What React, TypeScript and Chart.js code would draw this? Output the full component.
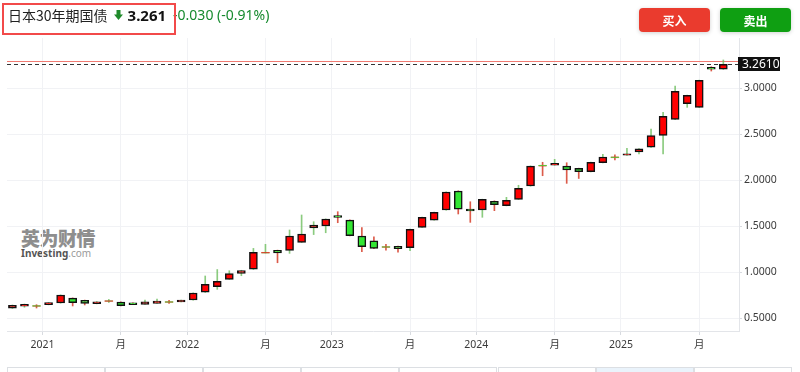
import React, { useEffect, useRef } from 'react';
import { Chart, registerables } from 'chart.js';

Chart.register(...registerables);

// ---- data ----
const months = [
  '2020-10', '2020-11', '2020-12',
  '2021-01', '2021-02', '2021-03', '2021-04', '2021-05', '2021-06', '2021-07', '2021-08', '2021-09', '2021-10', '2021-11', '2021-12',
  '2022-01', '2022-02', '2022-03', '2022-04', '2022-05', '2022-06', '2022-07', '2022-08', '2022-09', '2022-10', '2022-11', '2022-12',
  '2023-01', '2023-02', '2023-03', '2023-04', '2023-05', '2023-06', '2023-07', '2023-08', '2023-09', '2023-10', '2023-11', '2023-12',
  '2024-01', '2024-02', '2024-03', '2024-04', '2024-05', '2024-06', '2024-07', '2024-08', '2024-09', '2024-10', '2024-11', '2024-12',
  '2025-01', '2025-02', '2025-03', '2025-04', '2025-05', '2025-06', '2025-07', '2025-08', '2025-09',
];

const opens = [
  0.610, 0.631, 0.635,
  0.648, 0.666, 0.720, 0.696, 0.659, 0.687, 0.677, 0.669, 0.652, 0.663, 0.678, 0.678,
  0.699, 0.783, 0.843, 0.924, 0.989, 1.033, 1.212, 1.239, 1.239, 1.326, 1.482, 1.503,
  1.618, 1.568, 1.395, 1.343, 1.276, 1.283, 1.268, 1.489, 1.568, 1.677, 1.884, 1.688,
  1.677, 1.772, 1.724, 1.793, 1.938, 2.160, 2.164, 2.155, 2.130, 2.093, 2.191, 2.251,
  2.272, 2.308, 2.359, 2.489, 2.663, 2.833, 2.793, 3.227, 3.207,
];

const highs = [
  0.645, 0.655, 0.648,
  0.672, 0.755, 0.722, 0.698, 0.682, 0.705, 0.679, 0.669, 0.699, 0.710, 0.696, 0.698,
  0.777, 0.960, 1.030, 1.017, 1.022, 1.260, 1.304, 1.241, 1.460, 1.623, 1.550, 1.581,
  1.659, 1.570, 1.485, 1.387, 1.304, 1.285, 1.469, 1.600, 1.654, 1.875, 1.886, 1.767,
  1.795, 1.777, 1.815, 1.946, 2.157, 2.196, 2.228, 2.191, 2.132, 2.198, 2.283, 2.278,
  2.348, 2.345, 2.558, 2.739, 3.025, 2.926, 3.089, 3.235, 3.308,
];

const lows = [
  0.607, 0.620, 0.612,
  0.646, 0.664, 0.634, 0.645, 0.657, 0.672, 0.635, 0.649, 0.650, 0.661, 0.663, 0.678,
  0.697, 0.781, 0.815, 0.922, 0.963, 1.031, 1.210, 1.104, 1.206, 1.324, 1.410, 1.430,
  1.539, 1.396, 1.224, 1.258, 1.242, 1.220, 1.235, 1.487, 1.566, 1.675, 1.634, 1.543,
  1.598, 1.670, 1.722, 1.791, 1.936, 2.050, 2.164, 1.967, 2.020, 2.091, 2.189, 2.221,
  2.270, 2.286, 2.357, 2.286, 2.660, 2.793, 2.791, 3.188, 3.205,
];

const closes = [
  0.641, 0.651, 0.634,
  0.670, 0.753, 0.670, 0.663, 0.680, 0.688, 0.637, 0.649, 0.680, 0.688, 0.677, 0.698,
  0.775, 0.870, 0.902, 0.985, 1.020, 1.217, 1.213, 1.210, 1.395, 1.416, 1.514, 1.579,
  1.598, 1.398, 1.278, 1.260, 1.275, 1.257, 1.467, 1.598, 1.652, 1.873, 1.685, 1.666,
  1.793, 1.735, 1.783, 1.913, 2.155, 2.159, 2.184, 2.112, 2.093, 2.196, 2.253, 2.250,
  2.289, 2.343, 2.485, 2.696, 2.967, 2.924, 3.087, 3.207, 3.261,
];

const yTickValues = [0.5, 1.0, 1.5, 2.0, 2.5, 3.0];
const midYearLabel = '月';
const lastPrice = 3.261;
const askPrice = 3.297;

const instrumentName = '日本30年期国债';
const priceText = '3.261';
const changeText = '-0.030 (-0.91%)';
const buyText = '买入';
const sellText = '卖出';
const tabCount = 8;
const activeTab = 6;

// x ticks derived from the month list: years at the Jan boundary, "月" at July
const xTicks: { value: number; label: string }[] = [];
months.forEach((m, i) => {
  const [yy, mm] = m.split('-');
  if (mm === '01') xTicks.push({ value: i - 0.5, label: yy });
  if (mm === '07') xTicks.push({ value: i, label: midYearLabel });
});

const UP_BODY = '#ff0000';
const DOWN_BODY = '#33e633';
const UP_WICK = 'rgba(110,190,95,0.8)';
const DOWN_WICK = 'rgba(214,62,42,0.85)';
const FONT = "'Noto Sans', 'Noto Sans CJK SC', sans-serif";

export default function App() {
  const canvasRef = useRef<HTMLCanvasElement | null>(null);

  useEffect(() => {
    document.body.style.margin = '0';
    const canvas = canvasRef.current;
    if (!canvas) return;

    const idx = months.map((_, i) => i);
    const isUp = (i: number) => closes[i] >= opens[i];
    const isCross = (i: number) => Math.abs(closes[i] - opens[i]) < 0.005;
    const crossIdx = idx.filter(isCross);

    const linesPlugin = {
      id: 'priceLines',
      beforeDatasetsDraw(chart: any) {
        const { ctx, chartArea } = chart;
        const y = chart.scales.y;
        ctx.save();
        const ya = Math.round(y.getPixelForValue(askPrice)) + 0.5;
        ctx.strokeStyle = '#f07a72';
        ctx.lineWidth = 1;
        ctx.beginPath();
        ctx.moveTo(chartArea.left, ya);
        ctx.lineTo(chartArea.right + 1, ya);
        ctx.stroke();
        const yl = Math.round(y.getPixelForValue(lastPrice)) + 0.5;
        ctx.strokeStyle = '#333';
        ctx.setLineDash([4, 3]);
        ctx.beginPath();
        ctx.moveTo(chartArea.left, yl);
        ctx.lineTo(chartArea.right, yl);
        ctx.stroke();
        ctx.restore();
      },
      afterDraw(chart: any) {
        const { ctx, chartArea } = chart;
        const y = chart.scales.y;
        const yl = y.getPixelForValue(lastPrice);
        ctx.save();
        ctx.fillStyle = '#111';
        ctx.fillRect(chartArea.right - 1, Math.round(yl) - 7, 42, 14);
        ctx.fillStyle = '#fff';
        ctx.font = `12px ${FONT}`;
        ctx.textBaseline = 'middle';
        ctx.textAlign = 'left';
        ctx.fillText(lastPrice.toFixed(4), chartArea.right + 3, Math.round(yl) + 0.5);
        ctx.restore();
      },
    };

    const chart = new Chart(canvas, {
      type: 'bar',
      data: {
        datasets: [
          {
            type: 'bar',
            label: 'body',
            data: idx.map((i) => ({ x: i, y: [opens[i], closes[i]] })) as any,
            backgroundColor: idx.map((i) => (isUp(i) ? UP_BODY : DOWN_BODY)),
            borderColor: '#111',
            borderWidth: idx.map((i) => (isCross(i) ? 0 : 1.5)) as any,
            borderSkipped: false,
            barThickness: 8,
            grouped: false,
            order: 0,
          },
          {
            type: 'scatter',
            label: 'cross',
            data: crossIdx.map((i) => ({ x: i, y: closes[i] })),
            pointStyle: 'line',
            pointRadius: 4,
            pointBorderWidth: 1.5,
            pointBorderColor: crossIdx.map((i) => (isUp(i) ? UP_WICK : DOWN_WICK)),
            pointBackgroundColor: crossIdx.map((i) => (isUp(i) ? UP_WICK : DOWN_WICK)),
            order: 1,
          } as any,
          {
            type: 'bar',
            label: 'wick',
            data: idx.map((i) => ({ x: i, y: [lows[i], highs[i]] })) as any,
            backgroundColor: idx.map((i) => (isUp(i) ? UP_WICK : DOWN_WICK)),
            borderWidth: 0,
            barThickness: 1,
            grouped: false,
            order: 2,
          },
        ],
      },
      options: {
        animation: false,
        responsive: false,
        maintainAspectRatio: false,
        layout: { padding: { left: 7, top: 38, right: 0, bottom: 0 } },
        plugins: { legend: { display: false }, tooltip: { enabled: false } },
        scales: {
          x: {
            type: 'linear',
            min: -0.45,
            max: 60.3,
            offset: false,
            grid: { offset: false, color: '#f1f2f5', tickLength: 4, tickColor: '#d8dbe0', drawTicks: true },
            border: { color: '#e3e5e9' },
            ticks: {
              autoSkip: false,
              maxRotation: 0,
              padding: 4,
              color: '#3a3a3a',
              font: { family: FONT, size: 10.5 },
              callback: (value: any) => {
                const t = xTicks.find((tk) => Math.abs(tk.value - Number(value)) < 1e-6);
                return t ? t.label : '';
              },
            },
            afterBuildTicks: (s: any) => {
              s.ticks = xTicks.map((t) => ({ value: t.value }));
            },
            afterFit: (s: any) => {
              s.height = 41;
            },
          },
          y: {
            type: 'linear',
            position: 'right',
            min: 0.362,
            max: 3.547,
            beginAtZero: false,
            grid: { color: '#f1f2f5', tickLength: 3, tickColor: '#d8dbe0' },
            border: { color: '#e3e5e9' },
            ticks: {
              padding: 2,
              color: '#3a3a3a',
              font: { family: FONT, size: 10.5 },
              callback: (value: any) => Number(value).toFixed(4),
            },
            afterBuildTicks: (s: any) => {
              s.ticks = yTickValues.map((v) => ({ value: v }));
            },
            afterFit: (s: any) => {
              s.width = 61;
            },
          },
        },
      } as any,
      plugins: [linesPlugin],
    });

    return () => chart.destroy();
  }, []);

  const tabs = Array.from({ length: tabCount }, (_, i) => i);

  return (
    <div
      style={{
        position: 'relative',
        width: 800,
        height: 372,
        overflow: 'hidden',
        background: '#fff',
        fontFamily: FONT,
      }}
    >
      {/* watermark */}
      <div style={{ position: 'absolute', left: 21, top: 228, zIndex: 0, lineHeight: 1 }}>
        <div style={{ fontSize: 19, fontWeight: 900, color: '#8e8e8e', fontFamily: "'Noto Sans CJK SC', sans-serif", letterSpacing: -0.5 }}>
          英为财情
        </div>
        <div style={{ fontSize: 10, marginTop: 1, color: '#555', fontWeight: 700 }}>
          Investing<span style={{ color: '#9a9a9a', fontWeight: 400 }}>.com</span>
        </div>
      </div>

      <canvas
        ref={canvasRef}
        width={800}
        height={372}
        style={{ position: 'absolute', left: 0, top: 0, width: 800, height: 372, zIndex: 1 }}
      />

      {/* header */}
      <div
        style={{
          position: 'absolute',
          left: 2,
          top: 3,
          width: 170,
          height: 28,
          border: '2px solid #f24a4a',
          zIndex: 3,
        }}
      />
      <div
        style={{
          position: 'absolute',
          left: 8,
          top: 4,
          height: 21,
          display: 'flex',
          alignItems: 'center',
          whiteSpace: 'nowrap',
          zIndex: 2,
        }}
      >
        <span style={{ fontSize: 14, color: '#222', fontFamily: "'Noto Sans CJK SC', sans-serif" }}>{instrumentName}</span>
        <svg width="9" height="10" viewBox="0 0 9 10" style={{ marginLeft: 6, marginRight: 5 }}>
          <rect x="2.5" y="0" width="4" height="5" fill="#1f8a2a" />
          <polygon points="0,4.5 9,4.5 4.5,10" fill="#1f8a2a" />
        </svg>
        <span style={{ fontSize: 15, fontWeight: 700, color: '#111' }}>{priceText}</span>
        <span style={{ fontSize: 14, color: '#168a2e', marginLeft: 7 }}>{changeText}</span>
      </div>

      {/* buttons */}
      <div
        style={{
          position: 'absolute',
          left: 639,
          top: 8,
          width: 71,
          height: 24,
          background: '#ea3b2e',
          borderRadius: 4,
          boxShadow: '0 1px 4px rgba(0,0,0,0.18)',
          color: '#fff',
          fontSize: 12,
          fontWeight: 700,
          display: 'flex',
          alignItems: 'center',
          justifyContent: 'center',
          fontFamily: "'Noto Sans CJK SC', sans-serif",
          zIndex: 2,
        }}
      >
        {buyText}
      </div>
      <div
        style={{
          position: 'absolute',
          left: 720,
          top: 8,
          width: 71,
          height: 24,
          background: '#0f9f12',
          borderRadius: 4,
          boxShadow: '0 1px 4px rgba(0,0,0,0.18)',
          color: '#fff',
          fontSize: 12,
          fontWeight: 700,
          display: 'flex',
          alignItems: 'center',
          justifyContent: 'center',
          fontFamily: "'Noto Sans CJK SC', sans-serif",
          zIndex: 2,
        }}
      >
        {sellText}
      </div>

      {/* bottom tabs */}
      {tabs.map((i) => (
        <div
          key={i}
          style={{
            position: 'absolute',
            left: 7 + i * 98.1,
            top: 367,
            width: 98.1,
            height: 20,
            boxSizing: 'border-box',
            border: '1px solid #dcdfe3',
            background: i === activeTab ? '#eaf3fb' : '#fff',
            zIndex: 2,
          }}
        />
      ))}
    </div>
  );
}
